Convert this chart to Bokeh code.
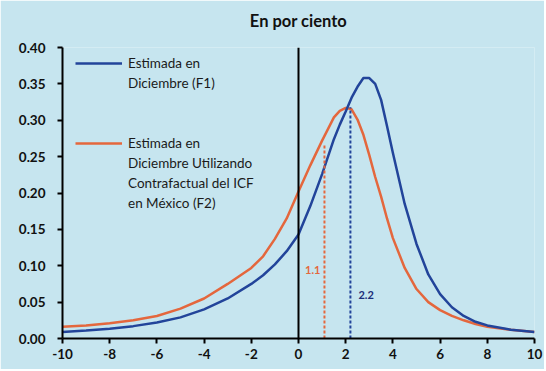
from bokeh.plotting import figure
from bokeh.models import (Legend, LegendItem, Span, Range1d, FixedTicker,
                          NumeralTickFormatter, Title)
from bokeh.core.properties import value
from bokeh.embed import file_html
from bokeh.resources import INLINE

# ---- data ----
x_vals = [-10, -9, -8, -7, -6, -5, -4, -3, -2, -1.5, -1, -0.5, 0, 0.5, 1, 1.5,
          1.75, 2, 2.25, 2.5, 2.75, 3, 3.25, 3.5, 3.75, 4, 4.5, 5, 5.5, 6, 6.5,
          7, 7.5, 8, 9, 10]
f1_dec = [0.009, 0.011, 0.0135, 0.017, 0.022, 0.029, 0.040, 0.055, 0.075, 0.087,
          0.102, 0.120, 0.143, 0.182, 0.226, 0.274, 0.294, 0.312, 0.331, 0.346,
          0.358, 0.358, 0.350, 0.328, 0.292, 0.255, 0.185, 0.130, 0.088, 0.061,
          0.043, 0.031, 0.023, 0.018, 0.012, 0.009]
f2_icf = [0.016, 0.018, 0.021, 0.025, 0.031, 0.041, 0.055, 0.075, 0.097, 0.113,
          0.137, 0.165, 0.202, 0.238, 0.272, 0.304, 0.313, 0.317, 0.315, 0.301,
          0.280, 0.252, 0.222, 0.195, 0.165, 0.138, 0.097, 0.068, 0.050, 0.039,
          0.031, 0.025, 0.020, 0.016, 0.012, 0.009]
mean_x = [1.1, 2.2]          # F2, F1
mean_y = [0.268, 0.318]
title_text = "En por ciento"
f1_label_lines = ["Estimada en", "Diciembre (F1)"]
f2_label_lines = ["Estimada en", "Diciembre Utilizando", "Contrafactual del ICF",
                  "en México (F2)"]
x_ticks = [-10, -8, -6, -4, -2, 0, 2, 4, 6, 8, 10]
y_ticks = [0.0, 0.05, 0.10, 0.15, 0.20, 0.25, 0.30, 0.35, 0.40]

# ---- style ----
BG = "#c6e5ef"
BLUE = "#22449a"
ORANGE = "#e4673d"
FONT = "Lato"

p = figure(width=544, height=369, output_backend="svg", toolbar_location=None,
           x_range=Range1d(-10, 10), y_range=Range1d(0, 0.40),
           min_border_left=62, min_border_right=10, min_border_top=47,
           min_border_bottom=31, background_fill_color=BG, border_fill_color=BG,
           outline_line_color=None)

# empty spacer between the title and the plot area
p.add_layout(Title(text=" ", text_font_size="2px", standoff=8), "above")

p.title.text = title_text
p.title.align = "center"
p.title.standoff = 10
p.title.text_font = FONT
p.title.text_font_size = "16.5px"
p.title.text_font_style = "bold"
p.title.text_color = "#111111"

p.xgrid.visible = False
p.ygrid.visible = False

for ax in (p.xaxis[0], p.yaxis[0]):
    ax.axis_line_color = "black"
    ax.axis_line_width = 2
    ax.major_tick_line_color = "black"
    ax.major_tick_line_width = 2
    ax.major_tick_out = 5
    ax.major_tick_in = 0
    ax.minor_tick_line_color = None
    ax.major_label_text_font = FONT
    ax.major_label_text_font_style = "bold"
    ax.major_label_text_font_size = "13.5px"
    ax.major_label_text_color = "#111111"

p.xaxis.ticker = FixedTicker(ticks=x_ticks)
p.xaxis.major_label_overrides = {t: str(t) for t in x_ticks}
p.yaxis.ticker = FixedTicker(ticks=y_ticks)
p.yaxis.formatter = NumeralTickFormatter(format="0.00")
p.xaxis.major_label_standoff = 5
p.yaxis.major_label_standoff = 12

p.add_layout(Span(location=0, dimension="height", line_color="black", line_width=2))

r2 = p.line(x_vals, f2_icf, line_color=ORANGE, line_width=2.5)
r1 = p.line(x_vals, f1_dec, line_color=BLUE, line_width=2.5)
# invisible renderer used for continuation lines of the legend labels
r_blank = p.line(x_vals[:2], f1_dec[:2], line_alpha=0)

p.segment(x0=mean_x, y0=[0, 0], x1=mean_x, y1=mean_y,
          line_color=[ORANGE, BLUE], line_width=2, line_dash="3 2")

p.text(x=[mean_x[0]], y=[0.094], text=[f"{mean_x[0]:.1f}"], x_offset=-4,
       text_align="right", text_baseline="middle", text_color=ORANGE,
       text_font=value(FONT), text_font_style="bold", text_font_size="11px")
p.text(x=[mean_x[1]], y=[0.060], text=[f"{mean_x[1]:.1f}"], x_offset=8,
       text_align="left", text_baseline="middle", text_color="#1c2f7a",
       text_font=value(FONT), text_font_style="bold", text_font_size="11px")

items = [LegendItem(label=f1_label_lines[0], renderers=[r1])]
items += [LegendItem(label=t, renderers=[r_blank]) for t in f1_label_lines[1:]]
items += [LegendItem(label=" ", renderers=[r_blank]) for _ in range(2)]
items += [LegendItem(label=f2_label_lines[0], renderers=[r2])]
items += [LegendItem(label=t, renderers=[r_blank]) for t in f2_label_lines[1:]]

legend = Legend(items=items, location=(13, 127), margin=0, padding=0, spacing=4,
                background_fill_alpha=0, border_line_color=None,
                glyph_width=47, glyph_height=16, label_height=16,
                label_standoff=6, label_text_font=FONT,
                label_text_font_size="13.5px", label_text_color="#1a1a1a")
p.add_layout(legend)

html = file_html(p, INLINE)
html = html.replace("<body>", f'<body style="background:{BG}">', 1)
open("out.html", "w").write(html)
